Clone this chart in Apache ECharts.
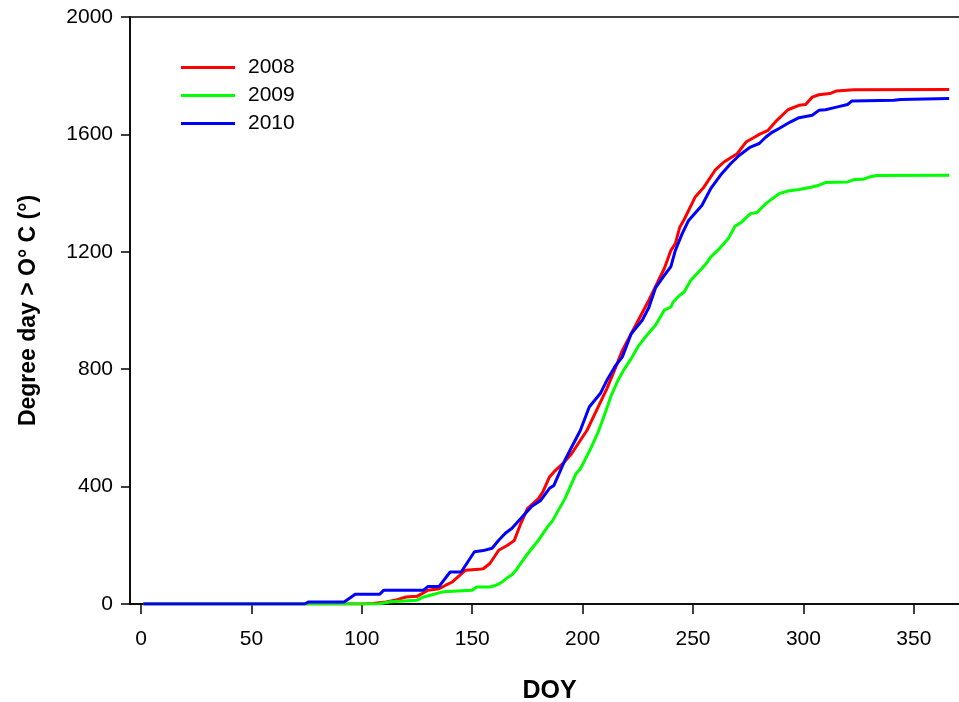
<!DOCTYPE html>
<html>
<head>
<meta charset="utf-8">
<script src="https://cdn.jsdelivr.net/npm/echarts@6/dist/echarts.min.js"></script>
<style>
  html, body { margin: 0; padding: 0; background: #fff; overflow: hidden; }
  #chart { width: 959px; height: 702px; }
</style>
</head>
<body>
<div id="chart"></div>
<script>
// Cumulative degree days above 0 °C by day of year: [DOY, degree days]
const seriesNames = ['2008', '2009', '2010'];

const dd2008 = [
  [1, 0], [100, 0], [105, 2], [111, 7], [116, 15], [120, 24], [125, 26], [130, 47],
  [135, 52], [138, 64], [141, 75], [147, 115], [153, 118], [155, 120], [158, 138],
  [162, 183], [166, 200], [169, 216], [172, 274], [175, 325], [180, 359], [182, 382],
  [185, 433], [187, 450], [191, 478], [195, 512], [199, 558], [202, 592], [207, 671],
  [211, 734], [215, 807], [218, 864], [222, 921], [226, 978], [230, 1035], [234, 1097],
  [237, 1143], [240, 1205], [242, 1228], [244, 1284], [246, 1310], [251, 1387],
  [255, 1421], [260, 1478], [264, 1506], [270, 1534], [274, 1574], [278, 1591],
  [280, 1600], [284, 1614], [288, 1648], [293, 1684], [298, 1699], [301, 1702],
  [304, 1727], [307, 1735], [312, 1739], [315, 1748], [323, 1752], [366, 1753]
];

const dd2009 = [
  [1, 0], [105, 0], [108, 1], [113, 8], [125, 13], [128, 24], [131, 30], [137, 42],
  [150, 47], [152, 58], [158, 58], [160, 62], [163, 72], [166, 90], [168, 100],
  [170, 117], [174, 160], [177, 189], [180, 217], [184, 262], [186, 279], [189, 319],
  [192, 359], [195, 410], [197, 444], [199, 461], [201, 490], [204, 535], [207, 585],
  [209, 625], [211, 668], [213, 711], [216, 762], [219, 802], [222, 836], [225, 876],
  [229, 915], [233, 950], [237, 1001], [240, 1012], [241, 1029], [244, 1052],
  [246, 1063], [249, 1103], [254, 1143], [256, 1160], [258, 1182], [262, 1211],
  [266, 1245], [269, 1287], [272, 1301], [276, 1330], [279, 1334], [283, 1364],
  [286, 1381], [289, 1398], [293, 1407], [298, 1412], [304, 1421], [307, 1427],
  [310, 1436], [320, 1438], [323, 1446], [327, 1447], [330, 1455], [333, 1460],
  [366, 1461]
];

const dd2010 = [
  [1, 0], [74, 0], [76, 7], [92, 7], [97, 33], [108, 33], [110, 47], [128, 47],
  [130, 60], [135, 60], [140, 109], [145, 109], [151, 178], [155, 182], [159, 190],
  [162, 217], [165, 241], [168, 258], [172, 291], [177, 333], [181, 353], [185, 394],
  [187, 404], [192, 490], [195, 534], [199, 592], [203, 671], [208, 717], [211, 762],
  [215, 813], [218, 842], [222, 921], [227, 967], [230, 1010], [233, 1077],
  [237, 1120], [240, 1150], [242, 1205], [245, 1260], [248, 1307], [254, 1358],
  [258, 1415], [263, 1466], [267, 1500], [271, 1529], [276, 1557], [280, 1569],
  [283, 1591], [286, 1608], [289, 1620], [294, 1642], [298, 1657], [304, 1665],
  [307, 1682], [310, 1684], [315, 1693], [320, 1702], [322, 1714], [341, 1716],
  [344, 1719], [366, 1722]
];

const xTicks = [0, 50, 100, 150, 200, 250, 300, 350];
const colors = ['#ff0000', '#00ff00', '#0000ff'];

const FONT = '"Liberation Sans", Arial, sans-serif';

const chart = echarts.init(document.getElementById('chart'), null, { renderer: 'canvas' });

chart.setOption({
  animation: false,
  backgroundColor: '#ffffff',
  // plot frame runs past the right edge of the canvas
  grid: {
    left: 130, top: 17, width: 839, bottom: 98,
    outerBoundsMode: 'none',
    containLabel: false,
    show: true, borderColor: '#000', borderWidth: 1.5, backgroundColor: 'transparent'
  },
  legend: {
    orient: 'vertical',
    left: 181, top: 57,
    padding: 0,
    icon: 'rect',
    itemWidth: 54, itemHeight: 3, itemGap: 7,
    data: seriesNames,
    textStyle: { fontFamily: FONT, fontSize: 21, color: '#000', padding: [0, 0, 0, 8] }
  },
  xAxis: {
    type: 'value',
    min: -5, max: 375,
    name: 'DOY',
    nameLocation: 'middle',
    nameGap: 75,
    nameTextStyle: { fontFamily: FONT, fontSize: 25, fontWeight: 'bold', color: '#000' },
    axisLine: { show: true, onZero: false, lineStyle: { color: '#000', width: 1.5 } },
    axisTick: { show: true, inside: false, length: 10, customValues: xTicks, lineStyle: { color: '#000', width: 1.5 } },
    axisLabel: { customValues: xTicks, margin: 25, fontFamily: FONT, fontSize: 21, color: '#000' },
    splitLine: { show: false }
  },
  yAxis: {
    type: 'value',
    min: 0, max: 2000, interval: 400,
    name: 'Degree day > O° C (°)',
    nameLocation: 'middle',
    nameGap: 90,
    nameTextStyle: { fontFamily: FONT, fontSize: 23, fontWeight: 'bold', color: '#000' },
    axisLine: { show: true, onZero: false, lineStyle: { color: '#000', width: 1.5 } },
    axisTick: { show: true, inside: false, length: 9, lineStyle: { color: '#000', width: 1.5 } },
    axisLabel: { margin: 17, fontFamily: FONT, fontSize: 21, color: '#000', formatter: v => String(v) },
    splitLine: { show: false }
  },
  series: [dd2008, dd2009, dd2010].map((d, i) => ({
    name: seriesNames[i],
    type: 'line',
    data: d,
    symbol: 'none',
    showSymbol: false,
    color: colors[i],
    lineStyle: { color: colors[i], width: 3 }
  }))
});
</script>
</body>
</html>
